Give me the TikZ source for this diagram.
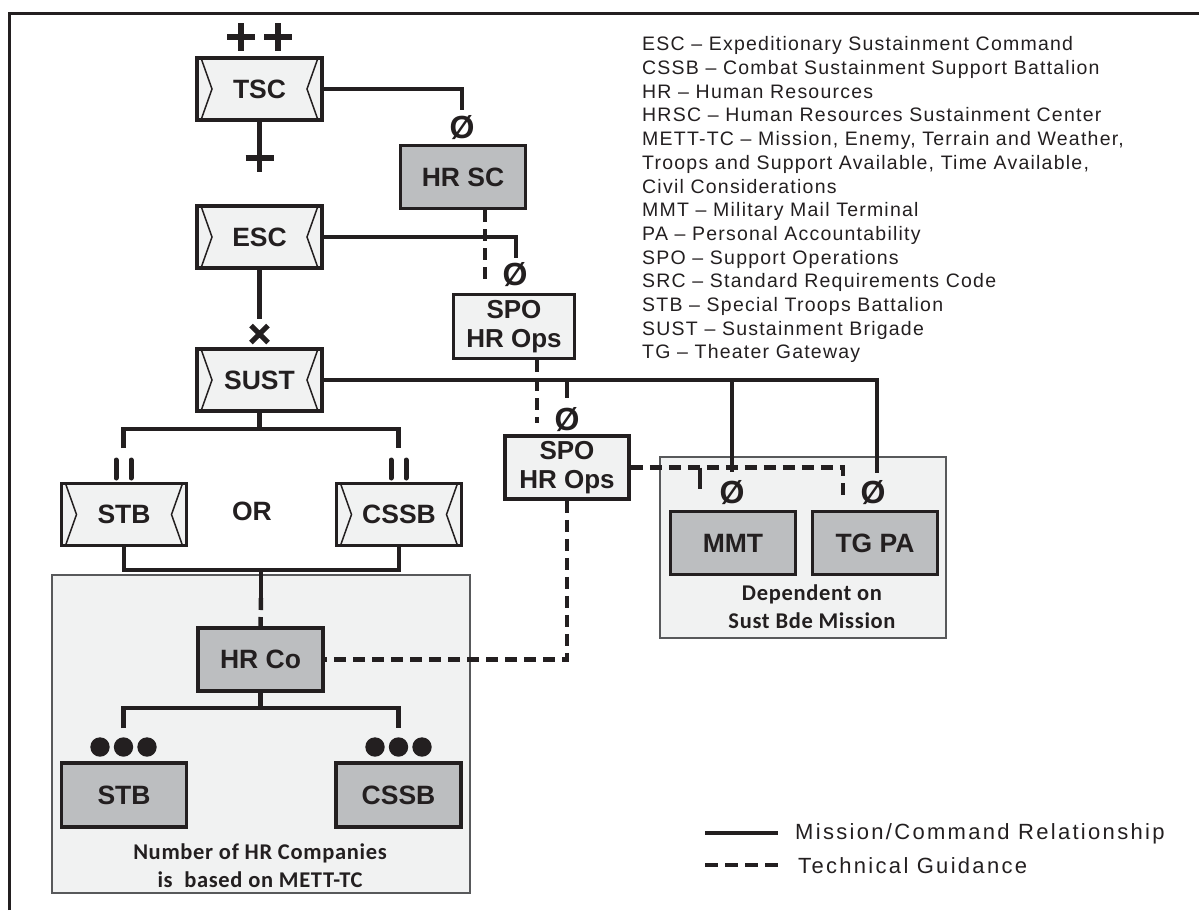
\documentclass[tikz,border=0pt]{standalone}
\usepackage{fontspec}
\setmainfont{Liberation Sans}
\newfontfamily\capfont[LetterSpace=3]{Carlito}
\newfontfamily\listfont[LetterSpace=6.3]{Liberation Sans}
\newfontfamily\keyfont[LetterSpace=10.5]{Liberation Sans}
\definecolor{ink}{HTML}{231F20}
\definecolor{lightfill}{HTML}{F1F2F2}
\definecolor{darkfill}{HTML}{BCBEC0}
\definecolor{regionline}{HTML}{58595B}
\tikzset{
  unitbox/.style={draw=ink, line width=3.5pt, fill=lightfill, text=ink,
    minimum width=125pt, minimum height=62pt, inner sep=0pt,
    font=\fontsize{26.5}{30}\selectfont\bfseries,
    path picture={
      \draw[line width=1.5pt, ink]
        ([xshift=4pt]path picture bounding box.north west)
        -- ([xshift=15pt]path picture bounding box.west)
        -- ([xshift=4pt]path picture bounding box.south west);
      \draw[line width=1.5pt, ink]
        ([xshift=-4pt]path picture bounding box.north east)
        -- ([xshift=-15pt]path picture bounding box.east)
        -- ([xshift=-4pt]path picture bounding box.south east);
    }},
  cellbox/.style={draw=ink, line width=3.5pt, fill=darkfill, text=ink,
    minimum width=125pt, minimum height=63pt, inner sep=0pt,
    font=\fontsize{26.5}{30}\selectfont\bfseries},
  spobox/.style={draw=ink, line width=3.5pt, fill=lightfill, text=ink,
    minimum width=121pt, minimum height=64pt, inner sep=0pt, align=center,
    font=\fontsize{26}{29.5}\selectfont\bfseries},
  cmd/.style={draw=ink, line width=4.5pt},
  tech/.style={draw=ink, line width=4.5pt, dash pattern=on 12pt off 7pt},
  region/.style={draw=regionline, line width=2pt, fill=lightfill},
  nil/.style={text=ink, inner sep=0pt, font=\fontsize{32}{32}\selectfont\bfseries},
  caption/.style={text=ink, align=center, inner sep=0pt,
    font=\capfont\fontsize{22.5}{28}\selectfont\bfseries},
  plusmark/.pic={\draw[ink, line width=5.5pt] (-14,0) -- (14,0) (0,-14) -- (0,14);},
  crossmark/.pic={\draw[ink, line width=5pt] (-8.5,-8.5) -- (8.5,8.5) (-8.5,8.5) -- (8.5,-8.5);},
  twobars/.pic={\draw[ink, line width=5pt, line cap=round] (-7.5,-9) -- (-7.5,9) (7.5,-9) -- (7.5,9);},
  threedots/.pic={\fill[ink] (-23.5,0) circle (9.7) (0,0) circle (9.7) (23.5,0) circle (9.7);}
}
\begin{document}
\begin{tikzpicture}[x=1pt, y=-1pt]
\useasboundingbox (0,0) rectangle (1199,910);
% outer frame (top and left edges)
\draw[ink, line width=3pt] (9,910) -- (9,13) -- (1199,13);

% shaded groupings
\draw[region] (52,575) rectangle (470,893);
\draw[region] (660,457) rectangle (946,638);

% unit boxes
\node[unitbox] (tsc)  at (259.5,89)  {TSC};
\node[unitbox] (esc)  at (259.5,237) {ESC};
\node[unitbox] (sust) at (259.5,380) {SUST};
\node[unitbox] (stb)  at (124,514.5) {STB};
\node[unitbox] (cssb) at (399,514.5) {CSSB};
\node[text=ink, font=\fontsize{26.5}{30}\selectfont\bfseries] (or) at (252,511) {OR};

\node[cellbox] (hrsc) at (463,177) {HR SC};
\node[spobox] (spoa) at (514,326.5) {SPO\\HR Ops};
\node[spobox, minimum width=124pt, minimum height=63pt] (spob) at (567,467.5) {SPO\\HR Ops};
\node[cellbox] (hrco) at (260.5,659.5) {HR Co};
\node[cellbox, minimum height=64pt] (stbc)  at (124,795) {STB};
\node[cellbox, minimum height=64pt] (cssbc) at (398.5,795) {CSSB};
\node[cellbox] (mmt)  at (733,543) {MMT};
\node[cellbox] (tgpa) at (875,543) {TG PA};

\node[caption] (depcap) at (812,607) {Dependent on\\Sust Bde Mission};
\node[caption] (numcap) at (260,866) {Number of HR Companies\\is\ \ based on METT-TC};

% echelon marks
\pic at (241,37)  {plusmark};
\pic at (278,37)  {plusmark};
\pic at (259.5,158) {plusmark};
\pic at (259.5,334) {crossmark};
\pic at (123.5,469) {twobars};
\pic at (398.5,469) {twobars};
\pic at (123.5,747) {threedots};
\pic at (398.5,747) {threedots};

% team symbols
\node[nil] (nhrsc) at (462,128) {Ø};
\node[nil] (nspoa) at (515,275) {Ø};
\node[nil] (nspob) at (567,420) {Ø};
\node[nil] (nmmt)  at (732,493) {Ø};
\node[nil] (ntgpa) at (873,493) {Ø};

% connector end points
\coordinate (escin)   at (259.5,145);
\coordinate (hrscin)  at (462,110);
\coordinate (spoain)  at (516,258);
\coordinate (hrscdrop) at (485,279);
\coordinate (sustin)  at (259.5,319);
\coordinate (bsplit)  at (259.5,429);
\coordinate (stbin)   at (123.5,448);
\coordinate (cssbin)  at (398.5,448);
\coordinate (spobin)  at (567,398);
\coordinate (mmtin)   at (732,472);
\coordinate (tgin)    at (877,473);
\coordinate (spoadrop) at (537,423);
\coordinate (tgtech)  at (843,495);
\coordinate (mmttech) at (700,488);
\coordinate (bjoin)   at (261,570);
\coordinate (bjoinb)  at (261,598);
\coordinate (cjoin)   at (260.5,708);
\coordinate (stbcin)  at (123.5,728);
\coordinate (cssbcin) at (398.5,728);

% mission / command relationships
\draw[cmd] (tsc.south) -- (escin);
\draw[cmd] (tsc.east) -| (hrscin);
\draw[cmd] (esc.east) -| (spoain);
\draw[cmd] (esc.south) -- (sustin);
\draw[cmd] (sust.south) -- (bsplit);
\draw[cmd] (stbin) -- (stbin |- bsplit) -- (cssbin |- bsplit) -- (cssbin);
\draw[cmd] (sust.east) -- (sust.east -| tgin) -- (tgin);
\draw[cmd] (spobin |- sust.east) -- (spobin);
\draw[cmd] (mmtin |- sust.east) -- (mmtin);
\draw[cmd] (stb.south) -- (stb.south |- bjoin) -- (cssb.south |- bjoin) -- (cssb.south);
\draw[cmd] (bjoin) -- (bjoinb);
\draw[cmd] (hrco.south) -- (cjoin);
\draw[cmd] (stbcin) -- (stbcin |- cjoin) -- (cssbcin |- cjoin) -- (cssbcin);

% technical guidance
\draw[tech] (hrscdrop |- hrsc.south) -- (hrscdrop);
\draw[tech] (spoadrop |- spoa.south) -- (spoadrop);
\draw[tech] (spob.east) -| (tgtech);
\draw[tech, dash pattern=on 20pt off 0pt] (mmttech |- spob.east) -- (mmttech);
\draw[tech] (spob.south) |- (hrco.east);
\draw[tech] (bjoinb) -- (hrco.north);

% abbreviations
\node[anchor=north west, inner sep=0pt, align=left, text=ink,
      font=\listfont\fontsize{19.5}{23.7}\selectfont] (abbr) at (642,36.5)
{ESC – Expeditionary Sustainment Command\\
CSSB – Combat Sustainment Support Battalion\\
HR – Human Resources\\
HRSC – Human Resources Sustainment Center\\
METT-TC – Mission, Enemy, Terrain and Weather,\\
Troops and Support Available, Time Available,\\
Civil Considerations\\
MMT – Military Mail Terminal\\
PA – Personal Accountability\\
SPO – Support Operations\\
SRC – Standard Requirements Code\\
STB – Special Troops Battalion\\
SUST – Sustainment Brigade\\
TG – Theater Gateway};

% legend
\coordinate (lga) at (705,833);
\coordinate (lgb) at (778,833);
\coordinate (lgc) at (705,865);
\coordinate (lgd) at (778,865);
\draw[cmd] (lga) -- (lgb);
\draw[tech, dash pattern=on 13pt off 7pt] (lgc) -- (lgd);
\node[anchor=base west, inner sep=0pt, text=ink,
      font=\keyfont\fontsize{22}{26}\selectfont] (lgcmd) at (795,839) {Mission/Command Relationship};
\node[anchor=base west, inner sep=0pt, text=ink,
      font=\keyfont\fontsize{22}{26}\selectfont] (lgtech) at (798,873) {Technical Guidance};
\end{tikzpicture}
\end{document}
